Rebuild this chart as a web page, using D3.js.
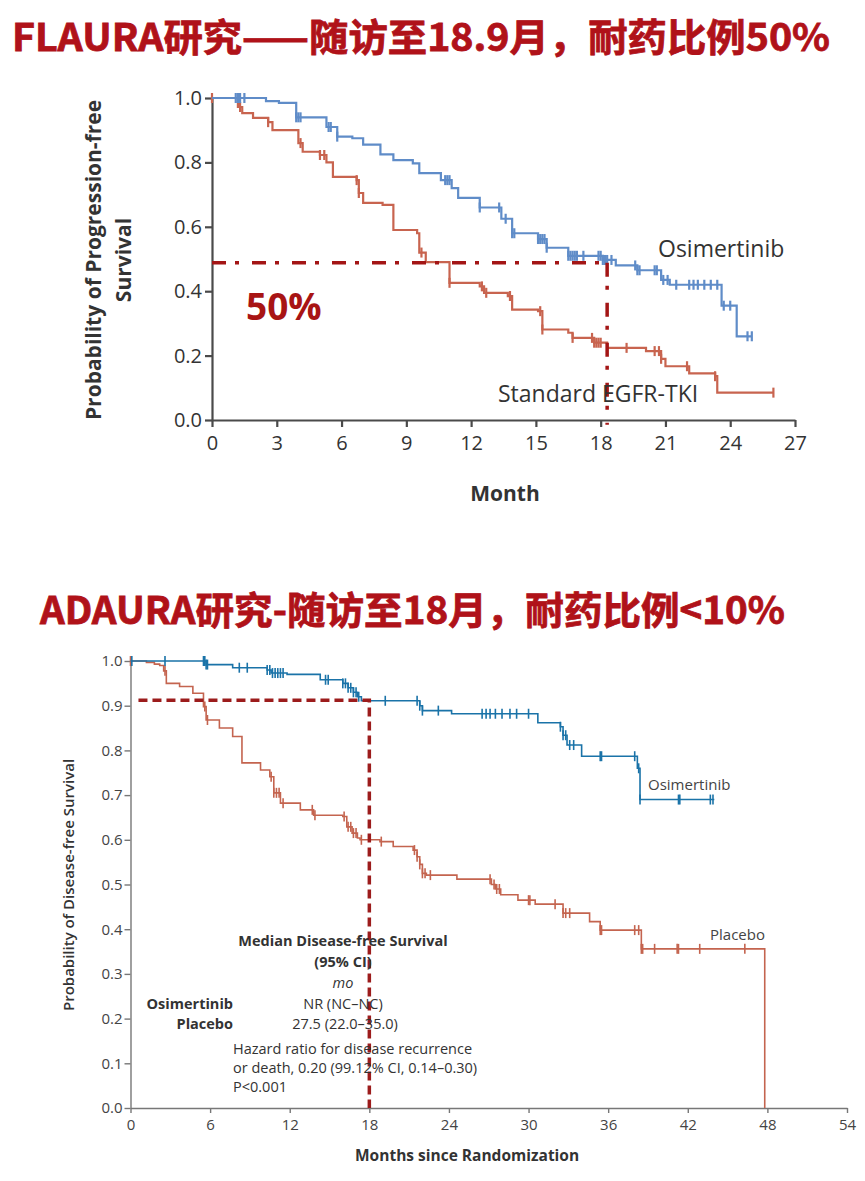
<!DOCTYPE html>
<html>
<head>
<meta charset="utf-8">
<script src="https://cdn.jsdelivr.net/npm/d3@7"></script>
<style>
  body { margin: 0; background: #fff; }
  svg { display: block; }
</style>
</head>
<body>
<svg id="chart" width="865" height="1181"></svg>
<script>
// ---- FLAURA (top) ----
const flauraXTicks = [0, 3, 6, 9, 12, 15, 18, 21, 24, 27];
const flauraYTicks = [0, 0.2, 0.4, 0.6, 0.8, 1.0];

// [month, survival] step points
const flauraOsi = [
  [0, 1.0], [2.5, 0.99], [3.1, 0.985], [3.9, 0.94], [5.3, 0.91], [5.8, 0.88],
  [6.5, 0.875], [7.0, 0.855], [7.8, 0.825], [8.4, 0.807], [9.3, 0.797], [9.6, 0.767],
  [10.6, 0.745], [11.1, 0.72], [11.4, 0.69], [12.4, 0.66], [13.4, 0.625], [13.9, 0.58],
  [15.1, 0.562], [15.5, 0.535], [16.5, 0.51], [18.1, 0.497], [18.7, 0.48], [19.7, 0.465],
  [20.8, 0.435], [21.2, 0.42], [23.6, 0.355], [24.3, 0.26], [25.0, 0.26]
];
const flauraOsiCensor = [
  1.1, 1.2, 1.3, 1.5, 3.9, 4.0, 4.1, 5.4, 5.5, 5.8, 10.8, 10.9, 11.0, 12.4, 13.3, 13.6,
  13.9, 14.0, 15.1, 15.2, 15.3, 15.4, 15.5, 16.5, 16.6, 16.7, 16.8, 16.9, 17.2,
  17.9, 18.0, 18.1, 18.2, 18.3, 18.5, 19.6, 19.7, 19.8, 20.5, 20.6, 20.9, 21.1, 21.5,
  22.1, 22.3, 22.5, 22.8, 23.1, 23.4, 23.7, 24.0, 24.8, 25.0
];
const flauraStd = [
  [0, 1.0], [1.2, 0.972], [1.4, 0.953], [1.9, 0.938], [2.6, 0.925], [2.8, 0.9],
  [4.0, 0.86], [4.2, 0.833], [5.0, 0.823], [5.3, 0.8], [5.6, 0.755], [6.7, 0.745],
  [6.8, 0.705], [7.0, 0.674], [7.9, 0.668], [8.4, 0.59], [9.5, 0.58], [9.6, 0.52],
  [9.9, 0.49], [11.0, 0.426], [12.4, 0.415], [12.6, 0.395], [13.7, 0.385], [13.9, 0.343],
  [15.1, 0.338], [15.3, 0.281], [16.5, 0.271], [16.7, 0.255], [17.7, 0.24], [18.3, 0.224],
  [20.1, 0.214], [20.8, 0.19], [21.0, 0.167], [22.1, 0.145], [23.3, 0.136], [23.4, 0.085],
  [26.0, 0.085]
];
const flauraStdCensor = [
  0, 1.3, 2.6, 4.1, 5.0, 5.2, 6.7, 6.8, 9.7, 11.0, 12.5, 12.7, 13.8, 15.2, 15.3, 16.7,
  17.6, 17.7, 17.8, 17.9, 18.0, 19.2, 20.5, 20.7, 20.8, 22.0, 23.3, 26.0
];
const flauraMedian = [18.3, 0.488];

// ---- ADAURA (bottom) ----
const adauraXTicks = [0, 6, 12, 18, 24, 30, 36, 42, 48, 54];
const adauraYTicks = [0, 0.1, 0.2, 0.3, 0.4, 0.5, 0.6, 0.7, 0.8, 0.9, 1.0];

const adauraOsi = [
  [0, 1.0], [5.7, 0.992], [7.7, 0.985], [10.3, 0.98], [10.6, 0.973], [11.8, 0.97],
  [14.3, 0.958], [16.0, 0.95], [16.4, 0.94], [16.8, 0.93], [17.1, 0.92], [17.4, 0.911],
  [21.8, 0.9], [22.0, 0.889], [24.2, 0.882], [30.7, 0.862], [32.4, 0.853], [32.6, 0.834],
  [32.9, 0.812], [34.0, 0.787], [38.2, 0.76], [38.4, 0.69], [44.0, 0.69]
];
const adauraOsiCensor = [
  0.1, 2.6, 5.5, 5.6, 5.7, 5.8, 8.2, 8.8, 10.3, 10.5, 10.7, 10.9, 11.1, 11.3, 11.5,
  14.7, 14.9, 16.0, 16.2, 16.4, 16.6, 16.8, 17.0, 17.2, 19.2, 21.6, 21.8, 22.0, 23.2,
  26.5, 26.8, 27.1, 27.5, 28.0, 28.6, 29.1, 30.0, 32.4, 32.6, 32.8, 33.1, 33.4,
  35.4, 35.5, 38.0, 38.3, 38.4, 41.3, 41.4, 43.7, 43.9
];
const adauraPbo = [
  [0, 1.0], [1.2, 0.997], [1.8, 0.993], [2.2, 0.99], [2.5, 0.978], [2.7, 0.95], [3.7, 0.943], [4.7, 0.928],
  [5.5, 0.898], [5.7, 0.868], [6.7, 0.85], [7.7, 0.831], [8.4, 0.772], [9.8, 0.756],
  [10.5, 0.741], [10.8, 0.705], [11.3, 0.682], [12.8, 0.667], [13.8, 0.655], [16.0, 0.652],
  [16.3, 0.629], [16.7, 0.615], [17.1, 0.604], [17.3, 0.6], [18.8, 0.596], [19.8, 0.585],
  [21.3, 0.577], [21.6, 0.562], [21.8, 0.545], [22.0, 0.525], [22.3, 0.521], [24.6, 0.512],
  [27.2, 0.5], [27.5, 0.49], [27.9, 0.477], [29.2, 0.465], [30.5, 0.456], [32.6, 0.436],
  [34.6, 0.417], [35.4, 0.398], [38.5, 0.356], [47.8, 0.0]
];
const adauraPboCensor = [
  0, 2.6, 5.6, 5.8, 10.6, 10.8, 11.0, 11.2, 11.5, 13.7, 13.9, 16.1, 16.4, 16.6, 16.8,
  17.0, 17.4, 18.9, 21.4, 21.6, 21.8, 22.0, 22.2, 22.6, 27.1, 27.4, 27.6, 27.8,
  30.0, 30.1, 32.0, 32.6, 32.8, 33.1, 35.4, 35.5, 38.0, 38.3, 38.5, 38.6, 39.5,
  41.2, 41.3, 42.9, 46.3
];
const adauraMedian = [18, 0.912];

const svg = d3.select("#chart");
const font = "'Open Sans', 'Noto Sans', sans-serif";

function survAt(steps, t) {
  let s = steps[0][1];
  for (const d of steps) if (d[0] <= t) s = d[1];
  return s;
}

function drawCurve(g, x, y, steps, censor, color, width, half) {
  g.append("path")
    .datum(steps)
    .attr("fill", "none")
    .attr("stroke", color)
    .attr("stroke-width", width)
    .attr("d", d3.line().curve(d3.curveStepAfter).x(d => x(d[0])).y(d => y(d[1])));
  g.selectAll(null)
    .data(censor)
    .join("line")
    .attr("x1", d => x(d)).attr("x2", d => x(d))
    .attr("y1", d => y(survAt(steps, d)) - half)
    .attr("y2", d => y(survAt(steps, d)) + half)
    .attr("stroke", color)
    .attr("stroke-width", width);
}

function styleAxis(g, color, w, size, fill) {
  g.select(".domain").attr("stroke", color).attr("stroke-width", w);
  g.selectAll(".tick line").attr("stroke", color).attr("stroke-width", w);
  g.selectAll(".tick text").attr("font-family", font).attr("font-size", size).attr("fill", fill);
}

// ---- titles ----
svg.append("text")
  .attr("x", 12).attr("y", 34)
  .attr("dominant-baseline", "central")
  .attr("textLength", 818).attr("lengthAdjust", "spacingAndGlyphs")
  .attr("font-family", "'Noto Sans CJK SC', sans-serif")
  .attr("font-weight", "bold").attr("font-size", 38)
  .attr("fill", "#b01219").attr("stroke", "#b01219").attr("stroke-width", 0.8)
  .text("FLAURA研究——随访至18.9月，耐药比例50%");

svg.append("text")
  .attr("x", 40).attr("y", 607)
  .attr("dominant-baseline", "central")
  .attr("textLength", 745).attr("lengthAdjust", "spacingAndGlyphs")
  .attr("font-family", "'Noto Sans CJK SC', sans-serif")
  .attr("font-weight", "bold").attr("font-size", 38)
  .attr("fill", "#b01219").attr("stroke", "#b01219").attr("stroke-width", 0.8)
  .text("ADAURA研究-随访至18月，耐药比例<10%");

// ---- top chart ----
const x1 = d3.scaleLinear().domain([0, 27]).range([212, 795]);
const y1 = d3.scaleLinear().domain([0, 1]).range([420, 98]);
const topG = svg.append("g");

topG.append("g")
  .attr("transform", `translate(0,${y1(0)})`)
  .call(d3.axisBottom(x1).tickValues(flauraXTicks).tickSize(7).tickSizeOuter(0).tickPadding(9))
  .call(g => styleAxis(g, "#4a4a4a", 2.2, 20, "#333"));
topG.append("g")
  .attr("transform", `translate(${x1(0)},0)`)
  .call(d3.axisLeft(y1).tickValues(flauraYTicks).tickFormat(d3.format(".1f")).tickSize(7).tickSizeOuter(0).tickPadding(3))
  .call(g => styleAxis(g, "#4a4a4a", 2.2, 20, "#333"));

drawCurve(topG, x1, y1, flauraStd, flauraStdCensor, "#c8644f", 2.2, 5);
drawCurve(topG, x1, y1, flauraOsi, flauraOsiCensor, "#5f8cc8", 2.2, 5);

topG.append("path")
  .attr("fill", "none").attr("stroke", "#a31515").attr("stroke-width", 3.5)
  .attr("stroke-dasharray", "14,9,4,13")
  .attr("d", `M${x1(0)},${y1(flauraMedian[1])}H${x1(flauraMedian[0])}`);
topG.append("path")
  .attr("fill", "none").attr("stroke", "#a31515").attr("stroke-width", 3.5)
  .attr("stroke-dasharray", "14,9,4,13")
  .attr("d", `M${x1(flauraMedian[0])},${y1(flauraMedian[1])}V${y1(-0.015)}`);

topG.append("text").attr("transform", "translate(93,260) rotate(-90)")
  .attr("text-anchor", "middle").attr("dominant-baseline", "central")
  .attr("font-family", font).attr("font-weight", "bold").attr("font-size", 21).attr("fill", "#333")
  .text("Probability of Progression-free");
topG.append("text").attr("transform", "translate(123,260) rotate(-90)")
  .attr("text-anchor", "middle").attr("dominant-baseline", "central")
  .attr("font-family", font).attr("font-weight", "bold").attr("font-size", 21).attr("fill", "#333")
  .text("Survival");
topG.append("text").attr("x", 505).attr("y", 493)
  .attr("text-anchor", "middle").attr("dominant-baseline", "central")
  .attr("font-family", font).attr("font-weight", "bold").attr("font-size", 21).attr("fill", "#333")
  .text("Month");
topG.append("text").attr("x", 658).attr("y", 248)
  .attr("dominant-baseline", "central")
  .attr("font-family", font).attr("font-size", 23).attr("fill", "#333")
  .text("Osimertinib");
topG.append("text").attr("x", 498).attr("y", 393)
  .attr("dominant-baseline", "central")
  .attr("font-family", font).attr("font-size", 23).attr("fill", "#333")
  .text("Standard EGFR-TKI");
topG.append("text").attr("x", 246).attr("y", 305)
  .attr("dominant-baseline", "central")
  .attr("font-family", font).attr("font-weight", "bold").attr("font-size", 37).attr("fill", "#a81414")
  .text("50%");

// ---- bottom chart ----
const x2 = d3.scaleLinear().domain([0, 54]).range([130.5, 847]);
const y2 = d3.scaleLinear().domain([0, 1]).range([1108, 661]);
const botG = svg.append("g");

botG.append("g")
  .attr("transform", `translate(0,${y2(0)})`)
  .call(d3.axisBottom(x2).tickValues(adauraXTicks).tickSize(5).tickSizeOuter(0).tickPadding(6))
  .call(g => styleAxis(g, "#777", 1.4, 15, "#444"));
botG.append("g")
  .attr("transform", `translate(${x2(0)},0)`)
  .call(d3.axisLeft(y2).tickValues(adauraYTicks).tickFormat(d3.format(".1f")).tickSize(6).tickSizeOuter(0).tickPadding(2))
  .call(g => styleAxis(g, "#777", 1.4, 15, "#444"));

drawCurve(botG, x2, y2, adauraPbo, adauraPboCensor, "#c4644f", 1.6, 5);
drawCurve(botG, x2, y2, adauraOsi, adauraOsiCensor, "#1a73a8", 1.6, 5);

botG.append("path")
  .attr("fill", "none").attr("stroke", "#9c1c1c").attr("stroke-width", 3.5)
  .attr("stroke-dasharray", "9,5")
  .attr("d", `M${x2(0.6)},${y2(adauraMedian[1])}H${x2(adauraMedian[0])}V${y2(0)}`);

botG.append("text").attr("transform", "translate(68,885) rotate(-90)")
  .attr("text-anchor", "middle").attr("dominant-baseline", "central")
  .attr("font-family", font).attr("font-weight", 600).attr("font-size", 15).attr("fill", "#333")
  .text("Probability of Disease-free Survival");
botG.append("text").attr("x", 355).attr("y", 1155)
  .attr("dominant-baseline", "central")
  .attr("font-family", font).attr("font-weight", "bold").attr("font-size", 15.5).attr("fill", "#333")
  .text("Months since Randomization");
botG.append("text").attr("x", 648).attr("y", 784)
  .attr("dominant-baseline", "central")
  .attr("font-family", font).attr("font-size", 15).attr("fill", "#444")
  .text("Osimertinib");
botG.append("text").attr("x", 710).attr("y", 934)
  .attr("dominant-baseline", "central")
  .attr("font-family", font).attr("font-size", 15).attr("fill", "#444")
  .text("Placebo");

const annot = [
  { t: "Median Disease-free Survival", x: 343, y: 940, a: "middle", w: "bold" },
  { t: "(95% CI)", x: 343, y: 961, a: "middle", w: "bold" },
  { t: "mo", x: 343, y: 982, a: "middle", w: "normal", s: "italic" },
  { t: "Osimertinib", x: 233, y: 1003, a: "end", w: "bold" },
  { t: "Placebo", x: 233, y: 1023, a: "end", w: "bold" },
  { t: "NR (NC–NC)", x: 343, y: 1003, a: "middle", w: "normal" },
  { t: "27.5 (22.0–35.0)", x: 345, y: 1023, a: "middle", w: "normal" },
  { t: "Hazard ratio for disease recurrence", x: 233, y: 1048, a: "start", w: "normal" },
  { t: "or death, 0.20 (99.12% CI, 0.14–0.30)", x: 233, y: 1067, a: "start", w: "normal" },
  { t: "P<0.001", x: 233, y: 1086, a: "start", w: "normal" }
];
botG.selectAll(null)
  .data(annot)
  .join("text")
  .attr("x", d => d.x).attr("y", d => d.y)
  .attr("text-anchor", d => d.a).attr("dominant-baseline", "central")
  .attr("font-family", font).attr("font-size", 14.5)
  .attr("font-weight", d => d.w).attr("font-style", d => d.s || "normal")
  .attr("fill", "#333")
  .text(d => d.t);
</script>
</body>
</html>
